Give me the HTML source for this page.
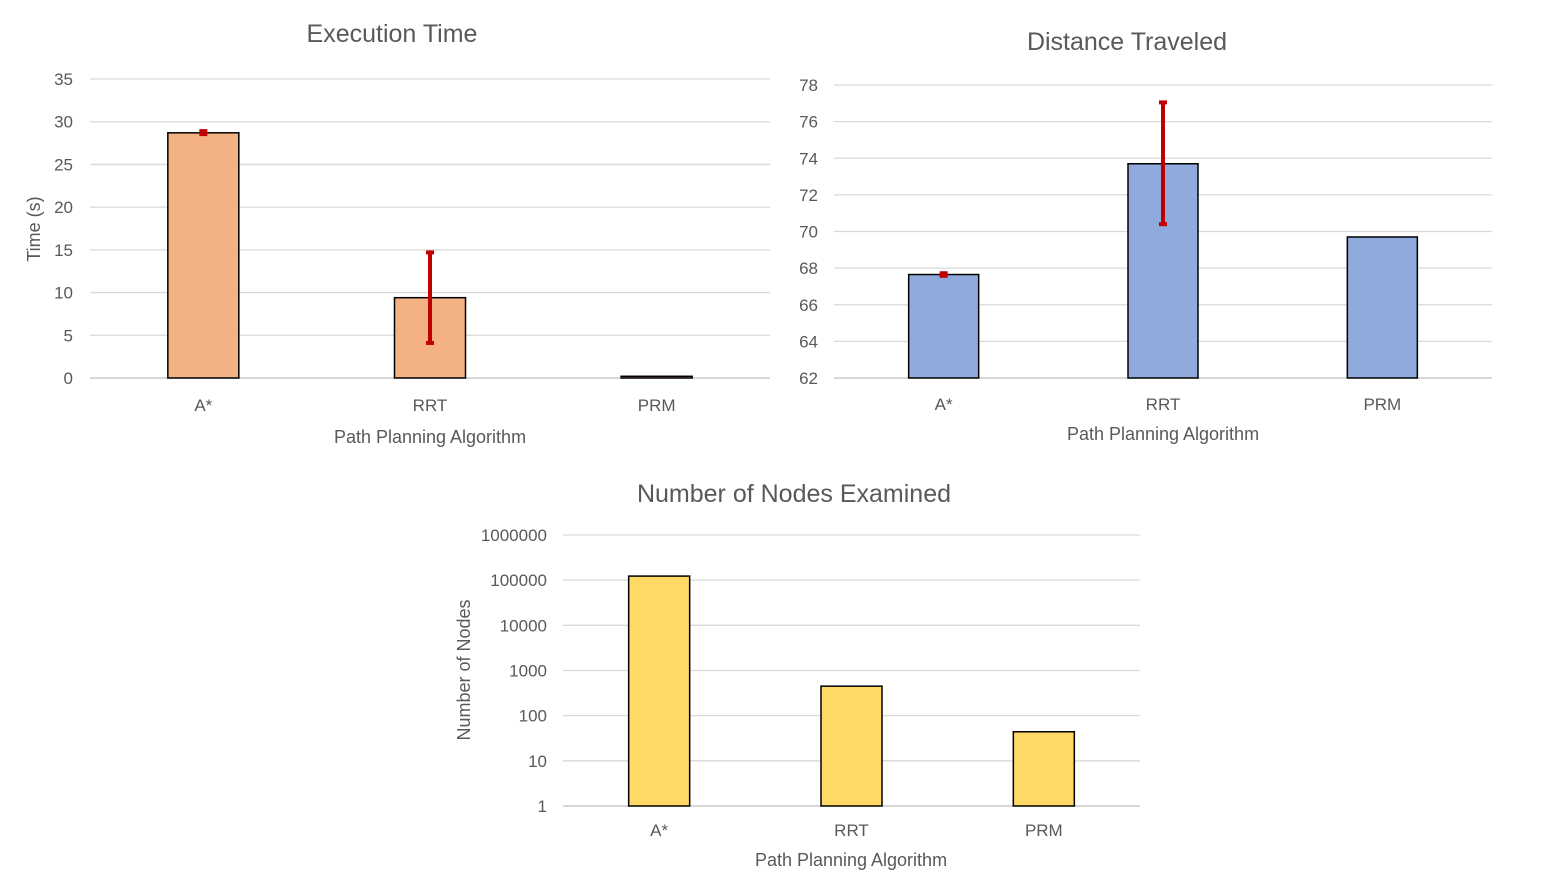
<!DOCTYPE html>
<html><head><meta charset="utf-8">
<style>
html,body{margin:0;padding:0;background:#fff;}
svg{display:block;font-family:"Liberation Sans",sans-serif;}
</style></head>
<body>
<svg id="s" width="1566" height="882" viewBox="0 0 1566 882"></svg>
<script>
const categories = ["A*", "RRT", "PRM"];
const timeValues = [28.7, 9.4, 0.2];
const timeErrLow = [28.55, 4.1, 0.2];
const timeErrHigh = [28.9, 14.7, 0.2];
const timeTicks = [0, 5, 10, 15, 20, 25, 30, 35];
const distValues = [67.65, 73.7, 69.7];
const distErrLow = [67.58, 70.4, 69.7];
const distErrHigh = [67.72, 77.05, 69.7];
const distTicks = [62, 64, 66, 68, 70, 72, 74, 76, 78];
const nodeValues = [123000, 450, 44];
const nodeTicks = [1, 10, 100, 1000, 10000, 100000, 1000000];

const NS = "http://www.w3.org/2000/svg";
const svg = document.getElementById("s");
function mk(tag, attrs, parent, text) {
  const e = document.createElementNS(NS, tag);
  for (const k in attrs) e.setAttribute(k, attrs[k]);
  if (text !== undefined) e.textContent = text;
  (parent || svg).appendChild(e);
  return e;
}

function chart(cfg) {
  const g = mk("g", {});
  
  
  const y = cfg.yScale;
  cfg.ticks.forEach((t, i) => {
    const yy = y(t);
    const ln = mk("line", {x1: cfg.gx0, x2: cfg.x1, y1: yy, y2: yy, stroke: i === 0 ? "#bfbfbf" : "#d9d9d9", "stroke-width": 1.3}, g);
    
    
    const tx = mk("text", {x: cfg.tickX, y: yy + 6, "text-anchor": "end", "font-size": 17, fill: "#595959"}, g, String(t));
    
    
  });
  const band = (cfg.x1 - cfg.x0) / categories.length;
  categories.forEach((c, i) => {
    const cx = cfg.x0 + band * (i + 0.5);
    const v = cfg.values[i];
    const top = y(v), base = y(cfg.ticks[0]);
    const r = mk("rect", {x: cx - cfg.barW / 2, y: top, width: cfg.barW, height: Math.max(base - top, 1), fill: cfg.color, stroke: "#000", "stroke-width": 1.5}, g);
    
    
    if (cfg.errLow) {
      const lo = y(cfg.errLow[i]), hi = y(cfg.errHigh[i]);
      if (Math.abs(lo - hi) > 0.5) {
        const eg = mk("g", {stroke: "#c00000", "stroke-width": 4}, g);
        
        
        mk("line", {x1: cx, x2: cx, y1: lo, y2: hi}, eg);
        mk("line", {x1: cx - 4, x2: cx + 4, y1: lo, y2: lo}, eg);
        mk("line", {x1: cx - 4, x2: cx + 4, y1: hi, y2: hi}, eg);
      }
    }
    const lb = mk("text", {x: cx, y: cfg.catY, "text-anchor": "middle", "font-size": 17, fill: "#595959"}, g, c);
    
    
  });
  const t = mk("text", {x: cfg.titleX, y: cfg.titleY, "text-anchor": "middle", "font-size": 25, fill: "#595959"}, g, cfg.title);
  
  
  const xt = mk("text", {x: cfg.xTitleX, y: cfg.xTitleY, "text-anchor": "middle", "font-size": 18, fill: "#595959"}, g, "Path Planning Algorithm");
  
  
  if (cfg.yTitle) {
    const yt = mk("text", {x: 0, y: 0, transform: `translate(${cfg.yTitleX},${cfg.yTitleY}) rotate(-90)`, "text-anchor": "middle", "font-size": 18, fill: "#595959"}, g, cfg.yTitle);
    
    
  }
}

chart({name: "execution-time-chart", title: "Execution Time", titleX: 392, titleY: 42,
  x0: 90, gx0: 90, x1: 770, tickX: 73, catY: 411, barW: 71, color: "#f4b183",
  ticks: timeTicks, values: timeValues, errLow: timeErrLow, errHigh: timeErrHigh,
  yScale: v => 378 - (v / 35) * 299,
  xTitleX: 430, xTitleY: 443, yTitle: "Time (s)", yTitleX: 40, yTitleY: 229});

chart({name: "distance-traveled-chart", title: "Distance Traveled", titleX: 1127, titleY: 50,
  x0: 834, gx0: 834, x1: 1492, tickX: 818, catY: 410, barW: 70, color: "#8faadc",
  ticks: distTicks, values: distValues, errLow: distErrLow, errHigh: distErrHigh,
  yScale: v => 378 - ((v - 62) / 16) * 293,
  xTitleX: 1163, xTitleY: 440});

chart({name: "nodes-examined-chart", title: "Number of Nodes Examined", titleX: 794, titleY: 502,
  x0: 563, gx0: 563, x1: 1140, tickX: 547, catY: 836, barW: 61, color: "#ffd966",
  ticks: nodeTicks, values: nodeValues,
  yScale: v => 806 - Math.log10(v) * 45.17,
  xTitleX: 851, xTitleY: 866, yTitle: "Number of Nodes", yTitleX: 470, yTitleY: 670});
</script>
</body></html>
